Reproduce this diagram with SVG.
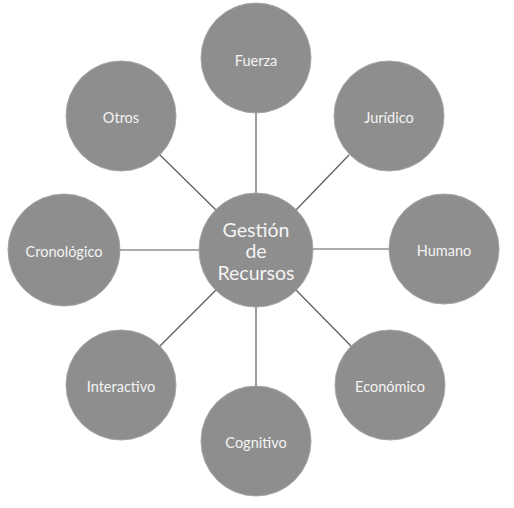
<svg xmlns="http://www.w3.org/2000/svg" width="514" height="508" viewBox="0 0 514 508">
<style>
.n{fill:#8e8e8e;stroke:#a6a6a6;stroke-width:1}
.t{font-family:Lato,"Open Sans",sans-serif;font-size:14.5px;fill:#f4f4f4;text-anchor:middle;dominant-baseline:central}
.c{font-size:19.5px}
.e{stroke:#5a5a5a;stroke-width:1.2;fill:none}
</style>
<rect width="514" height="508" fill="#ffffff"/>
<g id="connectors">
<line class="e" x1="256" y1="113" x2="256" y2="194"/>
<line class="e" x1="349" y1="155" x2="296" y2="210"/>
<line class="e" x1="389" y1="249" x2="312" y2="249"/>
<line class="e" x1="351" y1="346" x2="296" y2="290"/>
<line class="e" x1="256" y1="386" x2="256" y2="306"/>
<line class="e" x1="160" y1="346" x2="216" y2="290"/>
<line class="e" x1="120" y1="250" x2="200" y2="250"/>
<line class="e" x1="160" y1="155" x2="216" y2="210"/>
</g>
<g id="center"><circle class="n" cx="256" cy="250" r="57"/><text class="t c" x="256" y="229">Gestión</text><text class="t c" x="256" y="250">de</text><text class="t c" x="256" y="272">Recursos</text></g>
<g id="fuerza"><circle class="n" cx="256" cy="58" r="55"/><text class="t" x="256" y="60">Fuerza</text></g>
<g id="juridico"><circle class="n" cx="389" cy="116" r="55"/><text class="t" x="389" y="117">Jurídico</text></g>
<g id="humano"><circle class="n" cx="444" cy="249" r="55"/><text class="t" x="444" y="250">Humano</text></g>
<g id="economico"><circle class="n" cx="390" cy="385" r="55"/><text class="t" x="390" y="386">Económico</text></g>
<g id="cognitivo"><circle class="n" cx="256" cy="441" r="55"/><text class="t" x="256" y="442">Cognitivo</text></g>
<g id="interactivo"><circle class="n" cx="121" cy="385" r="55"/><text class="t" x="121" y="386">Interactivo</text></g>
<g id="cronologico"><circle class="n" cx="64" cy="250" r="56"/><text class="t" x="64" y="251">Cronológico</text></g>
<g id="otros"><circle class="n" cx="121" cy="116" r="55"/><text class="t" x="121" y="117">Otros</text></g>
</svg>
